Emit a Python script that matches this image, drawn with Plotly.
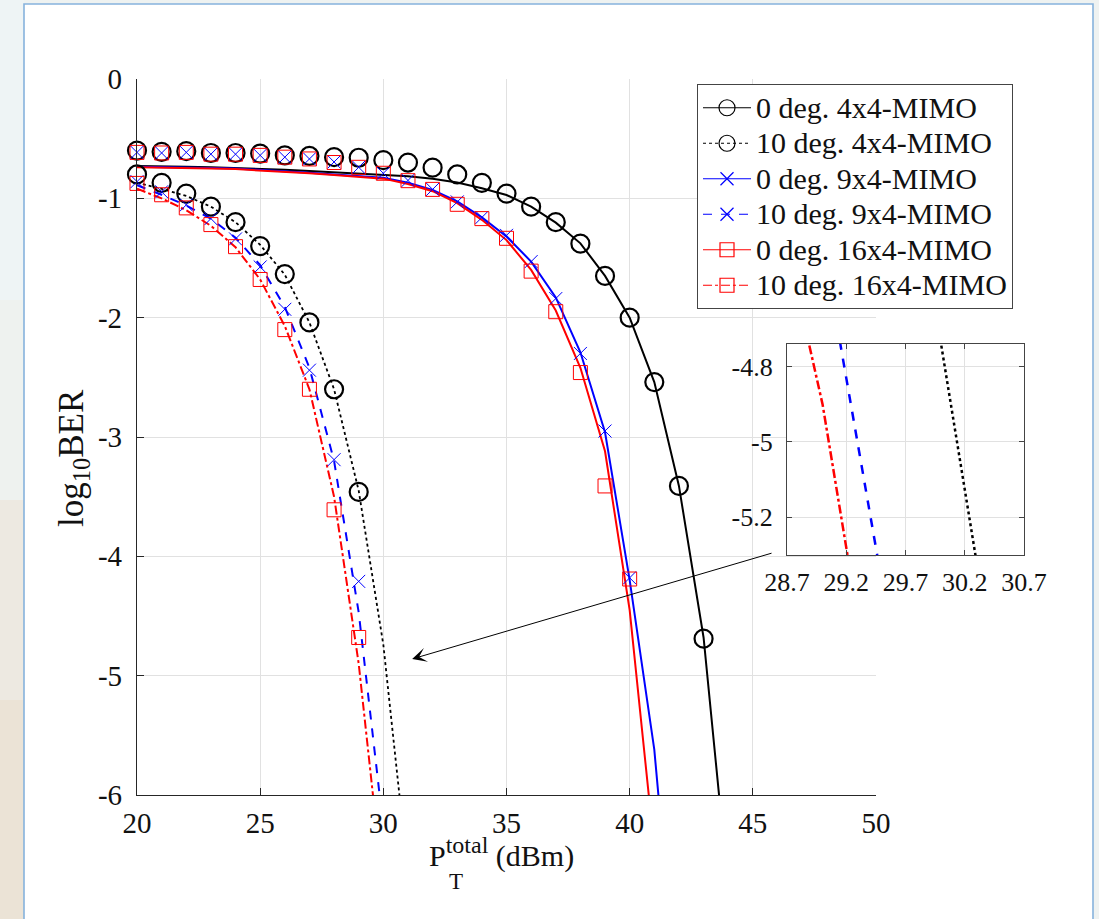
import plotly.graph_objects as go

# ---------------------------------------------------------------
# Analytical BER curves (log10 BER) versus total transmit power
# ---------------------------------------------------------------
p_ana_4x4_0 = list(range(20, 45))
ber_ana_4x4_0 = [-0.73, -0.73, -0.735, -0.74, -0.745, -0.75, -0.76, -0.77, -0.78,
                 -0.79, -0.80, -0.815, -0.835, -0.868, -0.916, -0.972, -1.07,
                 -1.204, -1.377, -1.65, -2.0, -2.54, -3.41, -4.68, -6.78]

p_ana_4x4_10 = list(range(20, 32))
ber_ana_4x4_10 = [-0.87, -0.92, -0.98, -1.07, -1.2, -1.39, -1.64, -2.04, -2.6,
                  -3.45, -4.74, -6.67]

p_ana_9x4_0 = list(range(20, 43))
ber_ana_9x4_0 = [-0.735, -0.737, -0.74, -0.745, -0.75, -0.76, -0.77, -0.785, -0.80,
                 -0.815, -0.828, -0.87, -0.93, -1.025, -1.16, -1.32, -1.53, -1.83,
                 -2.29, -2.96, -4.2, -5.62, -7.9]

p_ana_9x4_10 = list(range(20, 31))
ber_ana_9x4_10 = [-0.89, -0.97, -1.06, -1.17, -1.33, -1.56, -1.91, -2.42, -3.2,
                  -4.47, -6.27]

p_ana_16x4_0 = list(range(20, 42))
ber_ana_16x4_0 = [-0.74, -0.742, -0.745, -0.75, -0.755, -0.765, -0.775, -0.79,
                  -0.805, -0.82, -0.835, -0.88, -0.94, -1.04, -1.18, -1.35, -1.6,
                  -1.94, -2.42, -3.12, -4.45, -6.45]

p_ana_16x4_10 = list(range(20, 31))
ber_ana_16x4_10 = [-0.92, -1.0, -1.1, -1.23, -1.41, -1.68, -2.07, -2.6, -3.5,
                   -4.9, -6.8]

# ---------------------------------------------------------------
# Simulated BER points
# ---------------------------------------------------------------
p_sim_4x4_0 = list(range(20, 44))
ber_sim_4x4_0 = [-0.60, -0.61, -0.605, -0.62, -0.62, -0.625, -0.64, -0.645, -0.655,
                 -0.66, -0.68, -0.70, -0.743, -0.80, -0.87, -0.96, -1.07, -1.20,
                 -1.38, -1.65, -2.0, -2.54, -3.41, -4.69]

p_sim_4x4_10 = list(range(20, 30))
ber_sim_4x4_10 = [-0.80, -0.87, -0.96, -1.07, -1.20, -1.40, -1.635, -2.04, -2.60, -3.46]

p_sim_9x4_0 = list(range(20, 41))
ber_sim_9x4_0 = [-0.615, -0.62, -0.615, -0.63, -0.63, -0.64, -0.655, -0.67, -0.695,
                 -0.74, -0.79, -0.85, -0.925, -1.03, -1.16, -1.31, -1.53, -1.84,
                 -2.30, -2.95, -4.18]

p_sim_9x4_10 = list(range(20, 30))
ber_sim_9x4_10 = [-0.86, -0.945, -1.055, -1.17, -1.34, -1.575, -1.93, -2.44, -3.19, -4.21]

p_sim_16x4_0 = list(range(20, 41))
ber_sim_16x4_0 = [-0.615, -0.62, -0.615, -0.63, -0.63, -0.64, -0.655, -0.67, -0.70,
                  -0.74, -0.79, -0.852, -0.925, -1.05, -1.17, -1.335, -1.61, -1.95,
                  -2.46, -3.41, -4.19]

p_sim_16x4_10 = list(range(20, 30))
ber_sim_16x4_10 = [-0.875, -0.97, -1.08, -1.22, -1.405, -1.68, -2.10, -2.60, -3.61, -4.68]

legend_names = ["0 deg. 4x4-MIMO", "10 deg. 4x4-MIMO", "0 deg. 9x4-MIMO",
                "10 deg. 9x4-MIMO", "0 deg. 16x4-MIMO", "10 deg. 16x4-MIMO"]

x_ticks = [20, 25, 30, 35, 40, 45, 50]
x_ticktext = ["20", "25", "30", "35", "40", "45", "50"]
y_ticks = [0, -1, -2, -3, -4, -5, -6]
y_ticktext = ["0", "-1", "-2", "-3", "-4", "-5", "-6"]

zoom_x_ticks = [28.7, 29.2, 29.7, 30.2, 30.7]
zoom_x_ticktext = ["28.7", "29.2", "29.7", "30.2", "30.7"]
zoom_y_ticks = [-4.8, -5.0, -5.2]
zoom_y_ticktext = ["-4.8", "-5", "-5.2"]

FONT = "Liberation Serif"
W, H = 1099, 919
AX = "#262626"
GRID = "#e1e1e1"
TXT = "#111111"


def px_x(v):
    return v / W


def px_y(v):
    return (H - v) / H


# colour, dash, marker symbol, marker size, marker line width, line width
styles = [
    ("black", "solid", "circle-open", 18, 2.2, 2.0),
    ("black", "dot", "circle-open", 18, 2.2, 1.8),
    ("blue", "solid", "x-thin-open", 13, 1.0, 2.0),
    ("blue", "dash", "x-thin-open", 13, 1.0, 2.0),
    ("red", "solid", "square-open", 14, 1.0, 2.0),
    ("red", "dashdot", "square-open", 14, 1.0, 2.0),
]

ana = [(p_ana_4x4_0, ber_ana_4x4_0), (p_ana_4x4_10, ber_ana_4x4_10),
       (p_ana_9x4_0, ber_ana_9x4_0), (p_ana_9x4_10, ber_ana_9x4_10),
       (p_ana_16x4_0, ber_ana_16x4_0), (p_ana_16x4_10, ber_ana_16x4_10)]
sim = [(p_sim_4x4_0, ber_sim_4x4_0), (p_sim_4x4_10, ber_sim_4x4_10),
       (p_sim_9x4_0, ber_sim_9x4_0), (p_sim_9x4_10, ber_sim_9x4_10),
       (p_sim_16x4_0, ber_sim_16x4_0), (p_sim_16x4_10, ber_sim_16x4_10)]

fig = go.Figure()

for (xs, ys), (col, dash, sym, msz, mlw, lw) in zip(ana, styles):
    fig.add_trace(go.Scatter(x=xs, y=ys, mode="lines", showlegend=False,
                             line=dict(color=col, dash=dash, width=lw),
                             xaxis="x", yaxis="y"))

for (xs, ys), (col, dash, sym, msz, mlw, lw) in zip(sim, styles):
    fig.add_trace(go.Scatter(x=xs, y=ys, mode="markers", showlegend=False,
                             cliponaxis=False,
                             marker=dict(symbol=sym, size=msz, color=col,
                                         line=dict(color=col, width=mlw)),
                             xaxis="x", yaxis="y"))

# legend entries combine line style and marker; the label is set a little
# larger than the legend font so the rows stay compact
for name, (col, dash, sym, msz, mlw, lw) in zip(legend_names, styles):
    fig.add_trace(go.Scatter(x=[None], y=[None], mode="lines+markers",
                             name='<span style="font-size:30px">%s</span>' % name,
                             line=dict(color=col, dash=dash, width=1.2),
                             marker=dict(symbol=sym, size=min(msz, 16), color=col,
                                         line=dict(color=col, width=1.2)),
                             xaxis="x", yaxis="y"))

# zoomed view of the 10 deg. curves
for idx in (1, 3, 5):
    xs, ys = ana[idx]
    col, dash, sym, msz, mlw, lw = styles[idx]
    fig.add_trace(go.Scatter(x=xs, y=ys, mode="lines", showlegend=False,
                             line=dict(color=col, dash=dash, width=2.5),
                             xaxis="x2", yaxis="y2"))

shapes = []
# window background with a soft gradient on the left strip
bands = [("#eef4f5", 0, 300), ("#eef2ef", 300, 500), ("#ede9e1", 500, 700),
         ("#ebe3d6", 700, 919)]
for c, y0, y1 in bands:
    shapes.append(dict(type="rect", xref="paper", yref="paper", layer="below",
                       x0=0, x1=px_x(24), y0=px_y(y1), y1=px_y(y0),
                       fillcolor=c, line=dict(width=0)))
shapes.append(dict(type="rect", xref="paper", yref="paper", layer="below",
                   x0=px_x(24), x1=px_x(1093), y0=px_y(925), y1=px_y(4),
                   fillcolor="white", line=dict(color="#86b2dd", width=1.6)))

annotations = [
    dict(x=31.17, y=-4.86, ax=45.82, ay=-3.97, xref="x", yref="y",
         axref="x", ayref="y", showarrow=True, arrowhead=3, arrowsize=2.4,
         arrowwidth=1, arrowcolor="black", standoff=0, text=""),
    dict(x=px_x(73), y=px_y(458), xref="paper", yref="paper", showarrow=False,
         xanchor="center", yanchor="middle",
         text="log<sub>10</sub>BER", textangle=-90,
         font=dict(family=FONT, size=35, color=TXT)),
    dict(x=px_x(427), y=px_y(852), xref="paper", yref="paper", showarrow=False,
         xanchor="left", yanchor="middle",
         text='P<sup><span style="font-size:24px">total</span></sup> (dBm)',
         font=dict(family=FONT, size=30, color=TXT)),
    dict(x=px_x(447), y=px_y(881), xref="paper", yref="paper", showarrow=False,
         xanchor="left", yanchor="middle", text="T",
         font=dict(family=FONT, size=23, color=TXT)),
]

axis_common = dict(showline=True, mirror=False, ticks="inside", tickwidth=1,
                   showgrid=True, gridcolor=GRID, gridwidth=1, zeroline=False,
                   automargin=False)

fig.update_layout(
    width=W, height=H,
    margin=dict(l=0, r=0, t=0, b=0, autoexpand=False),
    paper_bgcolor="#eef2f1",
    plot_bgcolor="white",
    font=dict(family=FONT, size=29, color=TXT),
    shapes=shapes,
    annotations=annotations,
    xaxis=dict(axis_common, domain=[px_x(137), px_x(876)], range=[20, 50],
               tickvals=x_ticks, ticktext=x_ticktext,
               linecolor=AX, linewidth=1.2, ticklen=7, tickcolor=AX,
               ticklabelstandoff=2,
               tickfont=dict(family=FONT, size=29, color=TXT), anchor="y"),
    yaxis=dict(axis_common, domain=[px_y(795), px_y(79)], range=[-6, 0],
               tickvals=y_ticks, ticktext=y_ticktext,
               linecolor=AX, linewidth=1.2, ticklen=7, tickcolor=AX,
               ticklabelstandoff=8,
               tickfont=dict(family=FONT, size=29, color=TXT), anchor="x"),
    xaxis2=dict(axis_common, domain=[px_x(787), px_x(1024)], range=[28.7, 30.7],
                tickvals=zoom_x_ticks, ticktext=zoom_x_ticktext, mirror="ticks",
                linecolor="#444444", linewidth=1.2, ticklen=5, tickcolor="#444444",
                ticklabelstandoff=4,
                tickfont=dict(family=FONT, size=26, color=TXT), anchor="y2"),
    yaxis2=dict(axis_common, domain=[px_y(555), px_y(344)], range=[-5.3, -4.74],
                tickvals=zoom_y_ticks, ticktext=zoom_y_ticktext, mirror="ticks",
                linecolor="#444444", linewidth=1.2, ticklen=5, tickcolor="#444444",
                ticklabelstandoff=8,
                tickfont=dict(family=FONT, size=26, color=TXT), anchor="x2"),
    legend=dict(x=px_x(697), y=px_y(84), xanchor="left", yanchor="top",
                bgcolor="white", bordercolor="#444444", borderwidth=1,
                font=dict(family=FONT, size=25, color=TXT),
                itemwidth=48, tracegroupgap=0),
    showlegend=True,
)

fig.write_html("out.html")
